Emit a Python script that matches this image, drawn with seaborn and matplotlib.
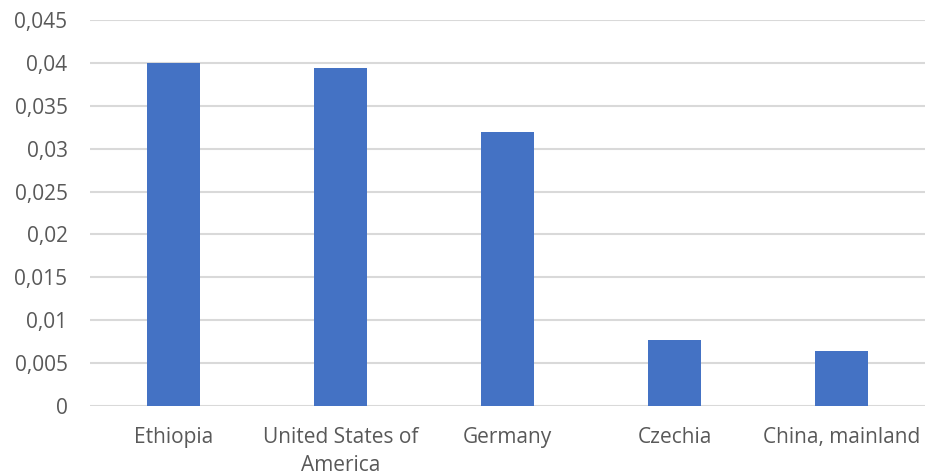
import pandas as pd
import matplotlib
matplotlib.use("Agg")
import matplotlib.pyplot as plt
import seaborn as sns
import numpy as np

countries = ["Ethiopia", "United States of\nAmerica", "Germany", "Czechia", "China, mainland"]
values = [0.0400, 0.0394, 0.0320, 0.00767, 0.00648]
yticks = [0, 0.005, 0.01, 0.015, 0.02, 0.025, 0.03, 0.035, 0.04, 0.045]

sns.set_style("white")
plt.rcParams['font.family'] = ['Open Sans', 'DejaVu Sans']

df = pd.DataFrame({"country": countries, "value": values})

fig = plt.figure(figsize=(9.26, 4.75), dpi=100)
ax = fig.add_axes([0.097, 0.145, 0.902, 0.813])

sns.barplot(data=df, x="country", y="value", color="#4472c4", saturation=1,
            width=0.315, linewidth=0, ax=ax, zorder=3)

ax.set_ylim(0, 0.045)
ax.set_xlim(-0.5, 4.5)
ax.set_yticks(yticks)
ax.set_yticklabels([f"{t:g}".replace(".", ",") for t in yticks])
ax.yaxis.grid(True, color="#d9d9d9", linewidth=1.5, zorder=0)
ax.set_axisbelow(True)
for s in ax.spines.values():
    s.set_visible(False)
ax.tick_params(axis="both", length=0, labelsize=15, colors="#595959")
ax.tick_params(axis="y", pad=16)
ax.tick_params(axis="x", pad=15)
for lbl in ax.get_xticklabels():
    lbl.set_linespacing(1.45)
ax.set_xlabel("")
ax.set_ylabel("")

fig.savefig("out.png", dpi=100)
